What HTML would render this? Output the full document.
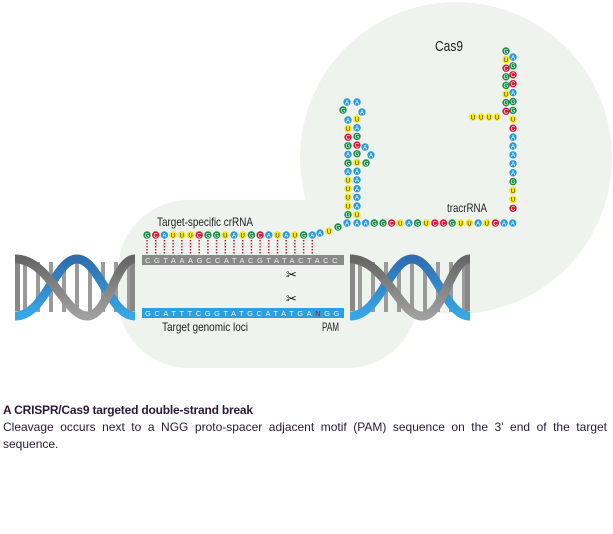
<!DOCTYPE html>
<html><head><meta charset="utf-8"><style>
body{margin:0;background:#fff;width:613px;height:534px;overflow:hidden;font-family:"Liberation Sans",sans-serif}
#cap{position:absolute;left:3px;top:402px;width:604px;color:#2a1a3a;font-size:12px;line-height:17px;text-align:justify}
#cap b{font-size:12px;letter-spacing:-0.2px}
</style></head><body>
<svg id="s" width="613" height="400" style="position:absolute;left:0;top:0" xmlns="http://www.w3.org/2000/svg">
<defs><linearGradient id="bl" x1="0" y1="0" x2="0" y2="1"><stop offset="0" stop-color="#2f6db0"/><stop offset="1" stop-color="#36a8e6"/></linearGradient>
<linearGradient id="gr" x1="0" y1="0" x2="0" y2="1"><stop offset="0" stop-color="#666"/><stop offset="1" stop-color="#a0a0a0"/></linearGradient></defs>
<circle cx="456" cy="158" r="156" fill="#eef3ee"/>
<rect x="118" y="200" width="300" height="168" rx="70" fill="#eef3ee"/>
<text x="435" y="51" font-size="15" fill="#222" textLength="28" lengthAdjust="spacingAndGlyphs">Cas9</text>
<text x="157" y="226" font-size="12" fill="#222" textLength="96" lengthAdjust="spacingAndGlyphs">Target-specific crRNA</text>
<text x="162" y="331" font-size="12" fill="#222" textLength="86" lengthAdjust="spacingAndGlyphs">Target genomic loci</text>
<text x="322" y="331" font-size="11.5" fill="#222" textLength="17" lengthAdjust="spacingAndGlyphs">PAM</text>
<text x="447" y="212" font-size="12" fill="#222" textLength="40" lengthAdjust="spacingAndGlyphs">tracrRNA</text>
<rect x="142" y="255" width="202" height="10" fill="#8a8a8a"/>
<rect x="142" y="308" width="202" height="10" fill="#2aa0e0"/>
<text x="145" y="263" font-size="7.5" fill="#eee" letter-spacing="3.55" font-family="Liberation Sans,sans-serif">CGTAAAGCCATACGTATACTACC</text>
<text x="145" y="316" font-size="7.5" fill="#eee" letter-spacing="3.55" font-family="Liberation Sans,sans-serif">GCATTTCGGTATGCATATGA<tspan fill="#c03">N</tspan>GG</text>
<text x="286" y="279" font-size="13" fill="#111">✂</text>
<text x="286" y="303" font-size="13" fill="#111">✂</text>
<g id="h1"></g>
<g id="beads"></g>
</svg>
<div id="cap"><b>A CRISPR/Cas9 targeted double-strand break</b><br>Cleavage occurs next to a NGG proto-spacer adjacent motif (PAM) sequence on the 3' end of the target sequence.</div>
<script>
var NS="http://www.w3.org/2000/svg";
function el(t,a,p){var e=document.createElementNS(NS,t);for(var k in a)e.setAttribute(k,a[k]);(p||document.getElementById('beads')).appendChild(e);return e;}
var col={G:"#1a8c48",C:"#d21e3c",A:"#2d9bd8",U:"#f1e31c"};
function bead(x,y,c){el('circle',{cx:x,cy:y,r:3.7,fill:col[c]});var t=el('text',{x:x,y:y+2.3,'font-size':6,'text-anchor':'middle',fill:c=='U'?'#333':'#fff','font-family':'Liberation Sans,sans-serif'});t.textContent=c;}
function helix(ox){var g=document.getElementById('h1');
 for(var i=0;i<9;i++){el('rect',{x:ox+8+i*13,y:262,width:4,height:50,fill:'#9a9a9a'},g);}
 el('rect',{x:ox,y:256,width:5,height:55,fill:'#888'},g);
 el('rect',{x:ox+115,y:256,width:5,height:55,fill:'#888'},g);
 el('path',{d:'M'+ox+',316 C'+(ox+30)+',316 '+(ox+40)+',259 '+(ox+62)+',259 S'+(ox+95)+',316 '+(ox+120)+',316',stroke:'url(#bl)','stroke-width':9,fill:'none'},g);
 el('path',{d:'M'+ox+',259 C'+(ox+35)+',259 '+(ox+50)+',316 '+(ox+72)+',316 S'+(ox+100)+',259 '+(ox+120)+',259',stroke:'url(#gr)','stroke-width':9,fill:'none'},g);
}
helix(15);helix(350);
var cr="GCAUUUCGGUAUGCAUAUGA";
for(var i=0;i<cr.length;i++){var x=147+i*8.7;el('line',{x1:x,y1:240,x2:x,y2:254,stroke:'#c0203a','stroke-width':1.5,'stroke-dasharray':'1.5,1.5'});}
for(var i=0;i<cr.length;i++)bead(147+i*8.7,235,cr[i]);
[[320,233,'A'],[329,231,'U'],[338,227,'G'],[347,223,'A']].forEach(function(b){bead(b[0],b[1],b[2]);});
var br="AAGGCUAGUCCGUUAUCAA";
for(var i=0;i<br.length;i++)bead(357+i*8.65,223,br[i]);
var lc="AUCGAGAUUUUG",rc="UAGCGUAAAAAU";
for(var i=0;i<lc.length;i++)bead(348,120+i*8.6,lc[i]);
for(var i=0;i<rc.length;i++)bead(357,119+i*8.7,rc[i]);
[[343,110,'G'],[347,102,'A'],[357,102,'A'],[362,112,'A'],[365,147,'A'],[371,155,'A'],[366,163,'G']].forEach(function(b){bead(b[0],b[1],b[2]);});
var ro="AGCCAGGUCAAAAAGUUC";
for(var i=0;i<ro.length;i++)bead(513,57+i*8.9,ro[i]);
var ri="GUCGGUGC";
for(var i=0;i<ri.length;i++)bead(506,51+i*8.6,ri[i]);
for(var i=0;i<4;i++)bead(473+i*8,117,'U');
</script>
</body></html>
